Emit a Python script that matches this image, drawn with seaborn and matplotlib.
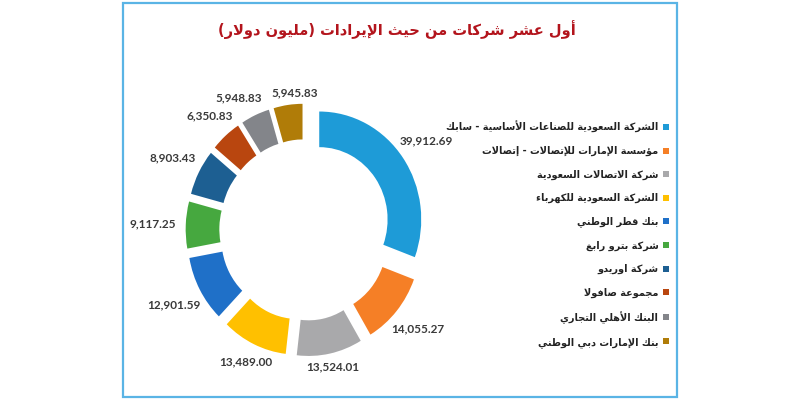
import numpy as np
import matplotlib
matplotlib.use("Agg")
import matplotlib.pyplot as plt
import seaborn as sns
from matplotlib.patches import Rectangle

# Data
companies = [
    "الشركة السعودية للصناعات الأساسية - سابك",
    "مؤسسة الإمارات للإتصالات - إتصالات",
    "شركة الاتصالات السعودية",
    "الشركة السعودية للكهرباء",
    "بنك قطر الوطني",
    "شركة بترو رابغ",
    "شركة اوريدو",
    "مجموعة صافولا",
    "البنك الأهلي التجاري",
    "بنك الإمارات دبي الوطني",
]
revenues = [39912.69, 14055.27, 13524.01, 13489.00, 12901.59,
            9117.25, 8903.43, 6350.83, 5948.83, 5945.83]
colors = ["#1E9BD7", "#F57F26", "#A9A9AB", "#FFC000", "#1F70C8",
          "#46A83F", "#1D5F92", "#B9460F", "#83858A", "#B07C08"]
title = "أول عشر شركات من حيث الإيرادات (مليون دولار)"

# matplotlib does no Arabic shaping, so map letters to presentation forms
FORMS = {
    'ء': (0xFE80, 1), 'آ': (0xFE81, 2), 'أ': (0xFE83, 2), 'ؤ': (0xFE85, 2),
    'إ': (0xFE87, 2), 'ئ': (0xFE89, 4), 'ا': (0xFE8D, 2), 'ب': (0xFE8F, 4),
    'ة': (0xFE93, 2), 'ت': (0xFE95, 4), 'ث': (0xFE99, 4), 'ج': (0xFE9D, 4),
    'ح': (0xFEA1, 4), 'خ': (0xFEA5, 4), 'د': (0xFEA9, 2), 'ذ': (0xFEAB, 2),
    'ر': (0xFEAD, 2), 'ز': (0xFEAF, 2), 'س': (0xFEB1, 4), 'ش': (0xFEB5, 4),
    'ص': (0xFEB9, 4), 'ض': (0xFEBD, 4), 'ط': (0xFEC1, 4), 'ظ': (0xFEC5, 4),
    'ع': (0xFEC9, 4), 'غ': (0xFECD, 4), 'ف': (0xFED1, 4), 'ق': (0xFED5, 4),
    'ك': (0xFED9, 4), 'ل': (0xFEDD, 4), 'م': (0xFEE1, 4), 'ن': (0xFEE5, 4),
    'ه': (0xFEE9, 4), 'و': (0xFEED, 2), 'ى': (0xFEEF, 2), 'ي': (0xFEF1, 4),
}
LAM_ALEF = {'آ': 0xFEF5, 'أ': 0xFEF7, 'إ': 0xFEF9, 'ا': 0xFEFB}


def shape(text):
    units = []
    i = 0
    while i < len(text):
        c = text[i]
        if c == 'ل' and i + 1 < len(text) and text[i + 1] in LAM_ALEF:
            units.append((LAM_ALEF[text[i + 1]], 2))
            i += 2
        elif c in FORMS:
            units.append(FORMS[c])
            i += 1
        else:
            units.append((c, 0))
            i += 1
    out = []
    for k, (base, n) in enumerate(units):
        if n == 0:
            out.append(base)
            continue
        prev_n = units[k - 1][1] if k > 0 else 0
        next_n = units[k + 1][1] if k + 1 < len(units) else 0
        join_prev = prev_n == 4 and n > 1
        join_next = n == 4 and next_n > 1
        if join_prev and join_next:
            off = 3
        elif join_prev:
            off = 1
        elif join_next:
            off = 2
        else:
            off = 0
        out.append(chr(base + off))
    vis = ''.join(out)[::-1]
    return vis.translate(str.maketrans('()', ')('))


sns.set_theme(style="white")
arabic_font = ['DejaVu Sans Condensed', 'DejaVu Sans']
plt.rcParams['font.family'] = arabic_font

fig = plt.figure(figsize=(8, 4), dpi=100)
fig.patch.set_facecolor("white")

# light blue frame
fig.patches.append(Rectangle((123 / 800, 3 / 400), 554 / 800, 394 / 400,
                             transform=fig.transFigure, fill=False,
                             edgecolor="#5AB4E5", linewidth=1.6))

fig.text(0.496, 0.925, shape(title), ha="center", va="center",
         fontsize=10.5, fontweight="bold", color="#B3141C")

ax = fig.add_axes([0.17725, 0.0065, 0.408, 0.837])
wedges, _ = ax.pie(revenues, colors=colors, startangle=90, counterclock=False,
                   explode=[0.17] * len(revenues), radius=1,
                   wedgeprops=dict(width=0.33, linewidth=0))
ax.set_aspect("auto")
ax.set_xlim(-1.6, 1.6)
ax.set_ylim(-1.55, 1.55)
ax.set_axis_off()

# value labels just outside each slice
labels = []
for w, v in zip(wedges, revenues):
    ang = np.deg2rad((w.theta1 + w.theta2) / 2)
    r = 1.08 + 0.24 * abs(np.cos(ang))
    cx, cy = w.center
    t = ax.text(cx + r * np.cos(ang), cy + r * np.sin(ang), f"{v:,.2f}",
                ha="center", va="center", fontsize=8.5, fontweight="bold",
                family="Lato", color="#3A3A3A")
    labels.append(t)

# push overlapping labels apart sideways
fig.canvas.draw()
rend = fig.canvas.get_renderer()
px = 3.2 / (0.408 * 800)
for _ in range(40):
    moved = False
    for i in range(len(labels)):
        for j in range(i + 1, len(labels)):
            bi = labels[i].get_window_extent(rend)
            bj = labels[j].get_window_extent(rend)
            if bi.x0 < bj.x1 + 8 and bj.x0 < bi.x1 + 8 and bi.y0 < bj.y1 and bj.y0 < bi.y1:
                left, right = (labels[i], labels[j]) if bi.x0 < bj.x0 else (labels[j], labels[i])
                lb, rb = left.get_window_extent(rend), right.get_window_extent(rend)
                gap = (lb.x1 + 8 - rb.x0) / 2 + 0.5
                lx, ly = left.get_position()
                rx, ry = right.get_position()
                left.set_position((lx - gap * px, ly))
                right.set_position((rx + gap * px, ry))
                moved = True
    if not moved:
        break

fig.legend(wedges, [shape(c) for c in companies], loc="upper right",
           bbox_to_anchor=(669 / 800, 1 - 121 / 400), frameon=False,
           markerfirst=False, handlelength=0.6, handleheight=0.6,
           handletextpad=0.5, labelspacing=1.36, borderaxespad=0,
           borderpad=0, prop=dict(family=arabic_font, size=7, weight="bold"),
           labelcolor="#222222")

fig.savefig("out.png", dpi=100, facecolor="white")
